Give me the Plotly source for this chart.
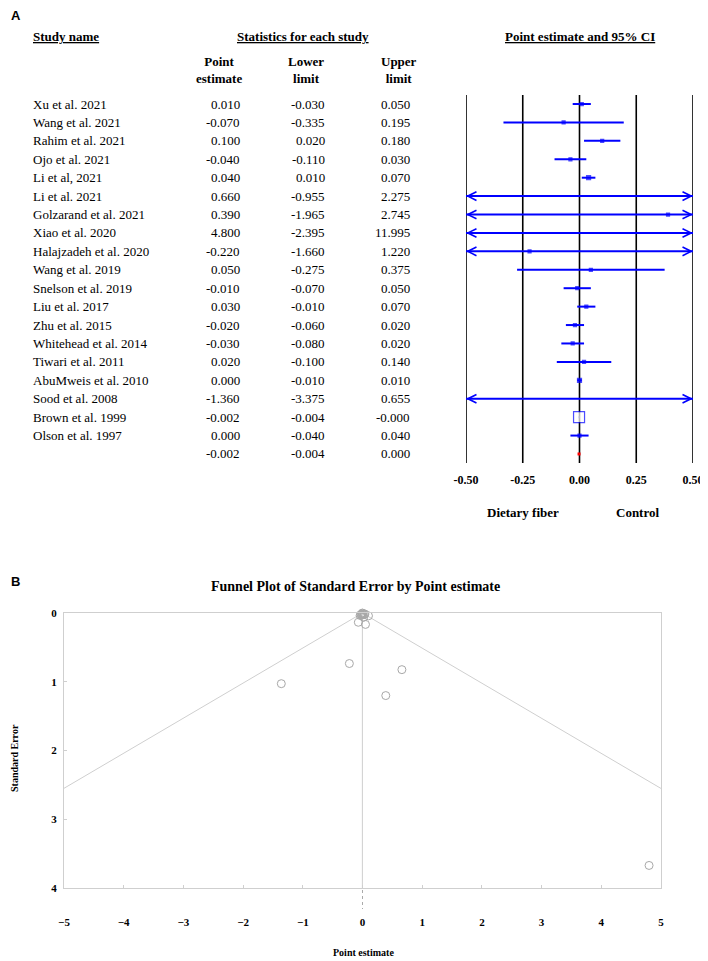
import plotly.graph_objects as go

# ---------------- data ----------------
studies = ["Xu et al. 2021", "Wang et al. 2021", "Rahim et al. 2021", "Ojo et al. 2021",
           "Li et al, 2021", "Li et al. 2021", "Golzarand et al. 2021", "Xiao et al. 2020",
           "Halajzadeh et al. 2020", "Wang et al. 2019", "Snelson et al. 2019", "Liu et al. 2017",
           "Zhu et al. 2015", "Whitehead et al. 2014", "Tiwari et al. 2011", "AbuMweis et al. 2010",
           "Sood et al. 2008", "Brown et al. 1999", "Olson et al. 1997"]
point = [0.010, -0.070, 0.100, -0.040, 0.040, 0.660, 0.390, 4.800, -0.220, 0.050,
         -0.010, 0.030, -0.020, -0.030, 0.020, 0.000, -1.360, -0.002, 0.000]
lower = [-0.030, -0.335, 0.020, -0.110, 0.010, -0.955, -1.965, -2.395, -1.660, -0.275,
         -0.070, -0.010, -0.060, -0.080, -0.100, -0.010, -3.375, -0.004, -0.040]
upper = [0.050, 0.195, 0.180, 0.030, 0.070, 2.275, 2.745, 11.995, 1.220, 0.375,
         0.050, 0.070, 0.020, 0.020, 0.140, 0.010, 0.655, -0.0004, 0.040]
summary_point, summary_lower, summary_upper = -0.002, -0.004, 0.000

forest_ticks = [-0.50, -0.25, 0.00, 0.25, 0.50]
forest_ticktext = ["-0.50", "-0.25", "0.00", "0.25", "0.50"]

# funnel plot: standard errors read from the funnel (x = point estimates above)
funnel_se = [0.020, 0.135, 0.041, 0.036, 0.015, 0.824, 1.201, 3.672, 0.735, 0.166,
             0.031, 0.020, 0.020, 0.026, 0.061, 0.005, 1.028, 0.001, 0.020]
funnel_xticks = [-5, -4, -3, -2, -1, 0, 1, 2, 3, 4, 5]
funnel_yticks = [0, 1, 2, 3, 4]

# ---------------- styles ----------------
SERIF = "Liberation Serif"
SANS = "Liberation Sans"
BLUE = "#0000ff"
# the page body has an 8px margin, so the figure is drawn 8px in from the window corner
OFF = 8
W, H = 708 - OFF, 961 - OFF

def px(x):
    return (x - OFF) / W

def py(y):
    return 1 - (y - OFF) / H

fig = go.Figure()

n = len(studies)
XMIN, XMAX = forest_ticks[0], forest_ticks[-1]

# vertical reference lines of the forest plot
for v in forest_ticks:
    fig.add_shape(type="line", xref="x", yref="y domain", x0=v, x1=v, y0=0, y1=1,
                  line=dict(color="black", width=1.6), layer="below")

# CI lines
xs, ys = [], []
for i in range(n):
    xs += [lower[i], upper[i], None]
    ys += [i, i, None]
fig.add_trace(go.Scatter(x=xs, y=ys, mode="lines", line=dict(color=BLUE, width=2),
                         hoverinfo="skip", xaxis="x", yaxis="y", showlegend=False))

# point markers
marker_sizes = [3, 3, 3, 3, 4, 3, 3, 3, 3, 3, 3, 3, 3, 3, 3, 4, 3, 11, 3]
fill = ["white" if s > 8 else BLUE for s in marker_sizes]
fig.add_trace(go.Scatter(x=point, y=list(range(n)), mode="markers",
                         marker=dict(symbol="square", size=marker_sizes, color=fill,
                                     line=dict(color=BLUE, width=1.2)),
                         xaxis="x", yaxis="y", showlegend=False))
# summary
fig.add_trace(go.Scatter(x=[summary_point], y=[n], mode="markers",
                         marker=dict(symbol="square", size=3, color="red"),
                         xaxis="x", yaxis="y", showlegend=False))

annotations = []
# arrows for truncated CIs
for i in range(n):
    if lower[i] < XMIN:
        annotations.append(dict(x=XMIN, y=i, ax=XMIN + 0.03, ay=i, xref="x", yref="y",
                                axref="x", ayref="y", showarrow=True, arrowhead=5,
                                arrowsize=1.3, arrowwidth=1.3, arrowcolor=BLUE, text=""))
    if upper[i] > XMAX:
        annotations.append(dict(x=XMAX, y=i, ax=XMAX - 0.03, ay=i, xref="x", yref="y",
                                axref="x", ayref="y", showarrow=True, arrowhead=5,
                                arrowsize=1.3, arrowwidth=1.3, arrowcolor=BLUE, text=""))

# table text
tf = dict(family=SERIF, size=13, color="black")
col_name, col_pt, col_lo, col_up = px(31), px(242), px(327), px(412)
for i in range(n):
    annotations.append(dict(x=col_name, y=i, xref="paper", yref="y", text=studies[i],
                            xanchor="left", yanchor="middle", showarrow=False, font=tf))
    for col, v in ((col_pt, point[i]), (col_lo, lower[i]), (col_up, upper[i])):
        annotations.append(dict(x=col, y=i, xref="paper", yref="y", text=f"{v:.3f}",
                                xanchor="right", yanchor="middle", showarrow=False, font=tf))
for col, v in ((col_pt, summary_point), (col_lo, summary_lower), (col_up, summary_upper)):
    annotations.append(dict(x=col, y=n, xref="paper", yref="y", text=f"{v:.3f}",
                            xanchor="right", yanchor="middle", showarrow=False, font=tf))

bf = dict(family=SERIF, size=13, color="black", weight="bold")
headers = [
    (px(31), py(36), "<u>Study name</u>", "left"),
    (px(303), py(36), "<u>Statistics for each study</u>", "center"),
    (px(580), py(36), "<u>Point estimate and 95% CI</u>", "center"),
    (px(219), py(70), "Point<br>estimate", "center"),
    (px(306), py(70), "Lower<br>limit", "center"),
    (px(399), py(70), "Upper<br>limit", "center"),
    (px(523), py(512), "Dietary fiber", "center"),
    (px(637), py(512), "Control", "center"),
]
for x, y, t, xa in headers:
    annotations.append(dict(x=x, y=y, xref="paper", yref="paper", text=t, xanchor=xa,
                            yanchor="middle", showarrow=False, font=bf))

# panel letters
lf = dict(family=SANS, size=13, color="black", weight="bold")
annotations.append(dict(x=px(9), y=py(15), xref="paper", yref="paper", text="A",
                        xanchor="left", yanchor="middle", showarrow=False, font=lf))
annotations.append(dict(x=px(9), y=py(581), xref="paper", yref="paper", text="B",
                        xanchor="left", yanchor="middle", showarrow=False, font=lf))

# ---------------- funnel plot ----------------
GRAY = "#cfcfcf"
se_max = max(funnel_yticks)
fig.add_trace(go.Scatter(
    x=[summary_point - 1.96 * se_max, summary_point, summary_point + 1.96 * se_max, None,
       summary_point, summary_point],
    y=[se_max, 0, se_max, None, 0, se_max],
    mode="lines", line=dict(color=GRAY, width=1), hoverinfo="skip",
    xaxis="x2", yaxis="y2", showlegend=False))
fig.add_trace(go.Scatter(x=point, y=funnel_se, mode="markers",
                         marker=dict(symbol="circle-open", size=8, color="#a8a8a8",
                                     line=dict(width=1)),
                         xaxis="x2", yaxis="y2", showlegend=False, cliponaxis=False))

fig.add_shape(type="line", xref="x2", yref="paper", x0=0, x1=0, y0=py(890), y1=py(909),
              line=dict(color="#aaaaaa", width=1, dash="3px,3px"))

annotations.append(dict(x=px(355), y=py(586), xref="paper", yref="paper",
                        text="Funnel Plot of Standard Error by Point estimate",
                        xanchor="center", yanchor="middle", showarrow=False,
                        font=dict(family=SERIF, size=14, color="black", weight="bold")))
annotations.append(dict(x=px(363), y=py(952), xref="paper", yref="paper",
                        text="Point estimate", xanchor="center", yanchor="middle",
                        showarrow=False,
                        font=dict(family=SERIF, size=10, color="black", weight="bold")))
annotations.append(dict(x=px(14), y=py(758), xref="paper", yref="paper",
                        text="Standard Error", xanchor="center", yanchor="middle",
                        textangle=-90, showarrow=False,
                        font=dict(family=SERIF, size=10, color="black", weight="bold")))

fig.update_layout(
    width=W, height=H, margin=dict(l=0, r=0, t=0, b=0, autoexpand=False),
    paper_bgcolor="white", plot_bgcolor="white",
    annotations=annotations,
    xaxis=dict(domain=[px(466), px(693)], range=[XMIN, XMAX], anchor="y", automargin=False,
               tickvals=forest_ticks, ticktext=forest_ticktext,
               showgrid=False, zeroline=False,
               showline=False, ticks="", ticklabelstandoff=8,
               tickfont=dict(family=SERIF, size=12, color="black", weight="bold")),
    yaxis=dict(domain=[py(463), py(95)], range=[n + 0.49, -0.49], visible=False,
               automargin=False, showgrid=False, zeroline=False),
    xaxis2=dict(domain=[px(64), px(661)], range=[-5, 5], anchor="y2", automargin=False,
                tickvals=funnel_xticks, showgrid=False, zeroline=False,
                showline=True, linecolor=GRAY, linewidth=1, mirror=True,
                ticks="inside", ticklen=3, tickcolor=GRAY, ticklabelstandoff=24,
                tickfont=dict(family=SERIF, size=11, color="black", weight="bold")),
    yaxis2=dict(domain=[py(888), py(613)], range=[se_max, 0], anchor="x2", automargin=False,
                tickvals=funnel_yticks, showgrid=False, zeroline=False,
                showline=True, linecolor=GRAY, linewidth=1, mirror=True,
                ticks="inside", ticklen=3, tickcolor=GRAY, ticklabelstandoff=4,
                tickfont=dict(family=SERIF, size=11, color="black", weight="bold")),
)

fig.write_html("out.html")
